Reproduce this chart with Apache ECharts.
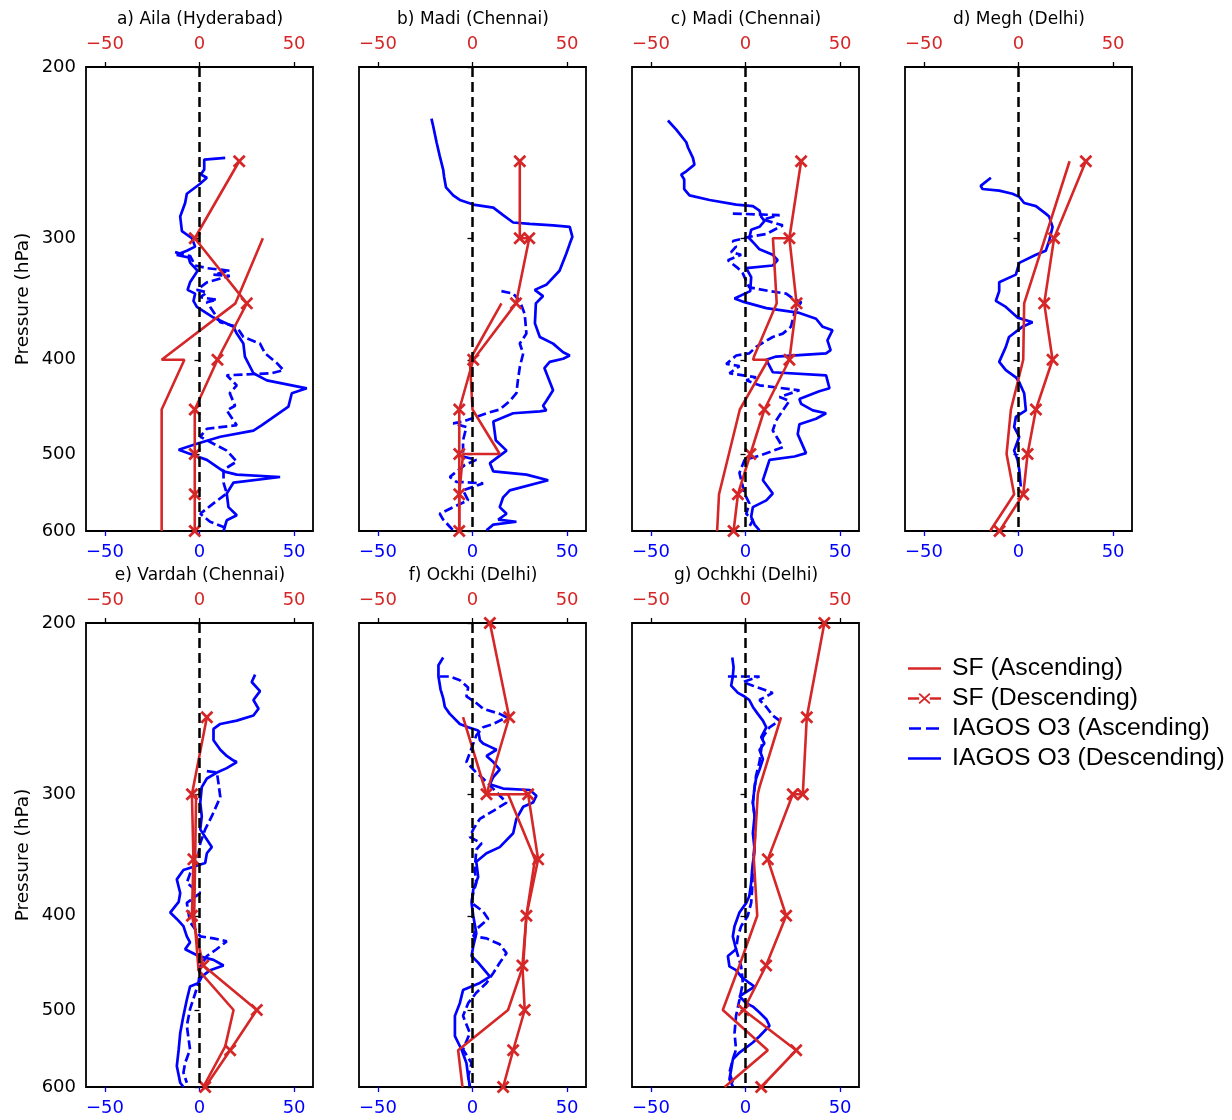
<!DOCTYPE html>
<html><head><meta charset="utf-8">
<script src="https://cdn.jsdelivr.net/npm/echarts@6/dist/echarts.min.js"></script>
<style>html,body{margin:0;padding:0;background:#fff}#c{width:1232px;height:1120px}</style>
</head><body><div id="c"></div>
<script>
// ---------------- DATA: [value, pressure (hPa)] ----------------
const titles = ['a) Aila (Hyderabad)','b) Madi (Chennai)','c) Madi (Chennai)','d) Megh (Delhi)','e) Vardah (Chennai)','f) Ockhi (Delhi)','g) Ochkhi (Delhi)'];
const seriesNames = ['SF (Ascending)','SF (Descending)','IAGOS O3 (Ascending)','IAGOS O3 (Descending)'];
const xTicks = [-50, 0, 50];
const pTicks = [200, 300, 400, 500, 600];

// a) Aila
const aSfAsc = [[33.5,300],[19,350],[-20,400],[-8,400],[-20,450],[-20,500],[-20,550],[-20,600]];
const aSfDesc = [[21,250],[-2.5,300],[25,350],[9.5,400],[-2.5,450],[-2.5,500],[-2.5,550],[-2.5,600]];
const aO3Desc = [[13.6,248],[2.5,249],[2.5,255],[0.7,258],[3.9,260],[0,264],[-6.7,270],[-7.6,276],[-10.2,285],[-9.3,295],[-4,300],[-2.3,306],[-6.7,309],[-12,312],[-5.8,314],[-4.9,318],[-1,324],[-5,333],[-6.3,339],[-2.3,342],[-3.2,348],[-1.4,353],[7.4,362],[18,370],[19.7,376],[23.2,385],[24,397],[28.5,413],[35.6,420],[56.7,428],[48.8,433],[47,447],[36.4,462],[33,467],[28.5,473],[11,480],[-1.4,488],[-11,495],[-2.3,502],[3.9,507],[12.7,521],[19.7,525],[42.6,528],[18,535],[14.4,549],[15.3,567],[19.7,578],[14.4,585],[12.7,600]];
const aO3Asc = [[-12.9,310],[-4.9,313],[-2.3,320],[3.9,322],[16,324],[7.4,327],[16,328],[3.9,333],[-1.4,339],[3.9,341],[0.4,345],[9.2,347],[3.9,349],[11,366],[19.7,370],[23.2,379],[32,385],[34.7,394],[40.8,403],[44.4,410],[38,413],[14.4,415],[19.7,425],[16,433],[18.8,446],[14.4,451],[18,462],[19.7,467],[3.9,471],[0.4,480],[7.4,488],[14.4,496],[19.7,509],[12.7,519],[12.7,535],[14.4,549],[7.4,562],[0.4,576],[5.6,587],[14.4,596]];

// b) Madi
const bSfAsc = [[15.3,350],[-1.4,400],[0,450],[14.4,500],[-5,500],[-7,550],[-7,600]];
const bSfDesc = [[25,250],[25,300],[30,300],[23,350],[0.4,400],[-7,450],[-7,500],[-7,550],[-7,600]];
const bO3Desc = [[-21.7,226],[-20.8,230],[-19,239],[-17.3,247],[-15.5,255],[-15,259.5],[-14,266],[-10.2,271],[-6.7,274],[0.4,277],[11,279],[16.2,284],[21.5,289],[30.3,290],[42.6,291],[51.4,292],[52.8,299],[51.4,304],[49.6,311],[46,324],[39,335],[32.9,339],[37.3,344],[33.5,350],[33,367],[35.6,379],[42.6,385],[47.9,393],[51.4,396],[47.9,399],[40.8,402],[38,408],[42.6,430],[39,441],[37.3,446],[39,451],[35.6,452],[21.5,454],[11,463],[12.3,484],[18,496],[9.2,511],[11,521],[28.5,525],[40,532],[19.7,545],[16.2,554],[14.4,567],[18,576],[13.6,584],[23.2,587],[11,591],[7.4,599]];
const bO3Asc = [[15.3,340],[21.5,342],[25,348],[27.6,359],[28.5,376],[25,385],[26.8,394],[25,407],[24,420],[23.2,433],[19.7,441],[14.4,450],[7.4,454],[-5,463],[-10.2,465],[-3.2,469],[-5,484],[-5,503],[2,507],[-4,513],[-12,528],[-8.5,534],[5.6,536],[-5,545],[-2.3,558],[-10.2,567],[-17.3,576],[-15.5,584],[-12,594],[-10.2,599]];

// c) Madi
const cSfAsc = [[23,300],[14.5,300],[16.5,350],[4.5,397],[4,400],[12,400],[-3,450],[-14,550],[-15,600]];
const cSfDesc = [[29.4,250],[23.2,300],[27,350],[23.2,400],[10,450],[2.6,500],[-4,550],[-6.3,600]];
const cO3Desc = [[-41,227],[-36.6,232],[-31.3,239],[-30.4,242],[-27.8,248],[-27,252],[-31.3,256],[-34,258],[-32.4,261],[-32.4,267],[-29.6,271],[-19,274],[-4.9,277],[3.9,278],[7.4,281],[8.3,285],[10,288],[7.4,292],[3,294],[2,300],[4.8,304],[7.4,308],[14.4,312],[17,316],[14.4,320],[0.4,322],[3,329],[2.5,340],[-5.8,346],[-0.5,349],[11,354],[28.5,358],[37.3,363],[40.8,370],[46,373],[43.3,382],[45,391],[42.6,394],[16.2,397],[11,400],[14.4,412],[42.6,415],[44.4,428],[39,431],[28.5,439],[29.4,444],[35.6,451],[42.6,454],[37.3,460],[28.5,466],[27.6,477],[32,499],[25.9,503],[12.7,507],[11,519],[9.2,532],[14.4,549],[11,558],[3.9,567],[3,580],[4.8,591],[7.4,599]];
const cO3Asc = [[-6.7,283],[18,284],[9.2,287],[19.7,291],[11,297],[2,299],[-6.7,302],[-5,306],[-7.6,310],[-2.3,312],[-9.3,316],[-4,322],[-1.4,326],[0.4,332],[2,337],[12.7,340],[21.5,342],[25,346],[29.4,349],[25.9,358],[24,370],[19.7,376],[14.4,379],[5.6,388],[2,394],[-4.9,396],[-10.2,404],[-3.2,406],[-8.5,413],[5.6,417],[0.4,420],[7.4,425],[28.5,430],[18,437],[23.2,441],[19.7,451],[16.2,462],[14.4,473],[19.7,492],[7.4,502],[-0.5,507],[-3.2,523],[-0.5,549],[2,562],[0.4,576],[3.9,585],[2,594]];

// d) Megh
const dSfAsc = [[27,250],[3,350],[2.5,400],[-4,450],[-6.3,500],[-2.3,550],[-15,600]];
const dSfDesc = [[35.6,250],[18.8,300],[13.6,350],[18,400],[9.2,450],[4.8,500],[2.5,550],[-10,600]];
const dO3Desc = [[-14.6,260],[-20,265],[-19,267],[-10.2,268],[-3.2,270],[0.4,272],[3,276],[9.2,278],[14.4,283],[16.2,285],[18,292],[16.2,302],[14.4,309],[9.2,312],[0.4,318],[-1.4,327],[-10.2,333],[-10.2,340],[-12,348],[-6.7,353],[-0.5,362],[7.4,366],[2,370],[-5,379],[-6.7,388],[-10.2,402],[-6.7,410],[-1.4,417],[0.4,422],[3,433],[3.9,451],[-1.4,458],[-2.3,469],[0.4,480],[-2.3,496],[-0.5,507],[0.4,519],[1.2,540]];
const dO3Asc = [];

// e) Vardah
const eSfAsc = [[-1.8,300],[-2.3,350],[-2.8,400],[-0.5,455],[18,500],[13.6,545],[2,600]];
const eSfDesc = [[3.9,250],[-4,300],[-3.2,350],[-4,400],[2,450],[30.3,500],[16.2,550],[3,600]];
const eO3Desc = [[29.4,226],[27.6,230],[32,235],[28.5,240],[31.2,245],[28.5,249],[19.7,252],[11,254],[7.4,257],[7.4,264],[11,270],[14.4,274],[18,277],[19.7,278],[14.4,282],[9.2,285],[3.9,289],[1.2,295],[0.4,306],[1.2,316],[0.4,326],[3,332],[6.5,340],[3.9,345],[3,353],[-8.5,359],[-12,367],[-10.2,379],[-11,387],[-15.5,397],[-12,403],[-8.5,410],[-6.7,420],[-5,426],[-7.6,433],[-0.5,440],[7.4,444],[12.7,450],[5.6,455],[1.2,462],[-0.5,469],[-5,473],[-6.7,488],[-8.5,507],[-10.2,528],[-11,549],[-12,571],[-10.2,594],[-8.5,600]];
const eO3Asc = [[3.9,284],[9.2,285],[10,292],[11,302],[6.5,316],[3,326],[0.4,337],[-1.4,353],[-5,362],[-6.7,370],[-2.3,376],[0.4,379],[-6.7,388],[-5,406],[0.4,420],[7.4,422],[14.4,425],[9,433],[3.9,440],[0.4,451],[-0.5,469],[-5,499],[-6.7,519],[-5,549],[-7.6,567],[-8.5,580],[-6.7,594]];

// f) Ockhi
const fSfAsc = [[-5,250],[7.4,300],[18.8,300],[33,350],[28.5,400],[26.8,450],[18.8,500],[-7.6,550],[-5.3,600]];
const fSfDesc = [[9.2,200],[19.4,250],[7.4,300],[29.4,300],[34.7,350],[28.5,400],[26.4,450],[27.6,500],[21.5,550],[16.2,600]];
const fO3Desc = [[-15.5,217],[-18,221],[-18,227],[-16.9,234],[-15.5,239],[-14.6,244],[-12,248],[-6.7,254],[-2.3,256],[3,258],[3.9,264],[5.6,266],[9.2,268],[12.7,270],[7.4,274],[11,278],[14.4,283],[11,288],[9.2,293],[16.2,296],[30.3,297],[33.8,301],[32,306],[26.8,309],[23.2,318],[21.5,329],[14.4,340],[7.4,345],[2,352],[3,365],[0.4,376],[-0.5,388],[0.4,400],[2,417],[0.4,430],[-0.5,440],[3,447],[9.2,462],[3.9,469],[-5,477],[-6.7,492],[-9.3,507],[-9.3,532],[-5.8,549],[-3.2,567],[-2.3,585],[-1.4,599]];
const fO3Asc = [[-17.3,227],[-12,227],[-6.7,229],[-2.3,233],[-3.2,238],[1.2,241],[5.6,245],[14.4,248],[18,250],[11,254],[5.6,256],[2,261],[-1.4,272],[-3.2,278],[2,285],[5.6,289],[18,306],[11,312],[3.9,318],[0.4,326],[-1.4,332],[4.8,337],[2,342],[1.2,359],[2,370],[0.4,379],[-0.5,388],[5.6,396],[8.3,403],[2,413],[0.4,420],[7.4,422],[14.4,428],[18,437],[14.4,447],[11,458],[7.4,469],[2,480],[-2.3,492],[-5,507],[-1.4,528],[-5,549],[-0.5,567],[-2.3,585],[-1.4,599]];

// g) Ochkhi
const gSfAsc = [[18.8,250],[7.4,295],[6.5,300],[4.4,350],[6.2,400],[-3.2,450],[-12,500],[11.8,550],[-11,600]];
const gSfDesc = [[41.7,200],[32.4,250],[30.3,300],[25,300],[11.8,350],[21.5,400],[10.9,450],[-1,500],[26.8,550],[8.3,600]];
const gO3Desc = [[-7,217],[-6.3,222],[-6.7,227],[-7.6,232],[-4,236],[-0.5,238],[2,240],[3.9,244],[6.5,248],[9.2,252],[11,256],[8.3,262],[10,266],[7.4,270],[9.2,276],[7.4,283],[5.6,289],[4.8,295],[3.9,306],[4.8,316],[3.9,329],[4.8,342],[3.5,359],[3,370],[2,382],[0.4,388],[-3.2,397],[-5.8,410],[-6.7,420],[-5,433],[-9.3,440],[-8.5,451],[-5,455],[-2.3,462],[2,469],[4.8,473],[-3.2,484],[0.4,492],[3.9,496],[7.4,503],[11,511],[12.7,519],[7.4,532],[3.9,540],[-3.2,553],[-6.7,562],[-7.6,576],[-8.5,589],[-6.7,599]];
const gO3Asc = [[-9.3,227],[7.4,227],[-1.4,230],[3.9,232],[9.2,234],[14.4,236],[7.4,240],[11,244],[14.4,249],[18,252],[12.7,256],[9.2,262],[8.3,270],[7.4,278],[5.6,287],[4.8,295],[3.9,306],[5.3,321],[4.8,337],[3.9,356],[3.5,376],[3,388],[1.2,400],[-2.3,410],[-4,420],[-5,433],[-2.3,451],[-1.4,469],[-3.2,488],[-5,507],[-5.8,528],[-5,549],[-6.7,562],[-8.5,580],[-6.7,594]];

// ---------------- LAYOUT / STYLE ----------------
const panels = [
  [aSfAsc,aSfDesc,aO3Asc,aO3Desc],[bSfAsc,bSfDesc,bO3Asc,bO3Desc],[cSfAsc,cSfDesc,cO3Asc,cO3Desc],[dSfAsc,dSfDesc,dO3Asc,dO3Desc],
  [eSfAsc,eSfDesc,eO3Asc,eO3Desc],[fSfAsc,fSfDesc,fO3Asc,fO3Desc],[gSfAsc,gSfDesc,gO3Asc,gO3Desc]
];
const RED = '#d62728', BLUE = '#0000ff';
const FONT = 'DejaVu Sans';
const lefts = [86,359,632,905,86,359,632];
const tops = [67,67,67,67,623,623,623];
const W = 227, H = 464;
const XSYM = 'path://M0,1.8L1.8,0L6,4.2L10.2,0L12,1.8L7.8,6L12,10.2L10.2,12L6,7.8L1.8,12L0,10.2L4.2,6Z';
// legend icons drawn as filled shapes in a 33x14 box (corner specks fix the box)
const BOX = 'M0,0L0.01,0L0,0.01Z M33,14L32.99,14L33,13.99Z ';
const ICON_SOLID = 'path://' + BOX + 'M0,5.7L33,5.7L33,8.3L0,8.3Z';
const ICON_DASH = 'path://' + BOX + 'M1,5.7L13,5.7L13,8.3L1,8.3Z M18,5.7L31,5.7L31,8.3L18,8.3Z';
const ICON_X = 'path://' + BOX + 'M0,5.7L11.2,5.7L11.2,8.3L0,8.3Z M21.8,5.7L33,5.7L33,8.3L21.8,8.3Z ' +
  'M10.5,2.8L11.8,1.5L16.5,5.7L21.2,1.5L22.5,2.8L17.8,7L22.5,11.2L21.2,12.5L16.5,8.3L11.8,12.5L10.5,11.2L15.2,7Z';
const minusFmt = v => (v < 0 ? '\u2212' : '') + Math.abs(v);

const grid = [], xAxis = [], yAxis = [], series = [], title = [];
panels.forEach((p, i) => {
  grid.push({left: lefts[i], top: tops[i], width: W, height: H, show: true, borderColor: '#000', borderWidth: 1.8, backgroundColor: 'transparent'});
  title.push({text: titles[i], left: lefts[i] + W/2 - 4.5, top: tops[i] - 61, textAlign: 'center',
    textStyle: {fontFamily: FONT, fontSize: 17, fontWeight: 'normal', color: '#000'}});
  // bottom axis (blue)
  xAxis.push({type: 'value', gridIndex: i, position: 'bottom', min: -60, max: 60,
    axisLine: {show: false}, splitLine: {show: false},
    axisTick: {show: true, length: 5, customValues: xTicks, lineStyle: {color: BLUE, width: 1.3}},
    axisLabel: {show: true, customValues: xTicks, formatter: minusFmt, color: BLUE, fontFamily: FONT, fontSize: 18, margin: 12}});
  // top axis (red)
  xAxis.push({type: 'value', gridIndex: i, position: 'top', min: -60, max: 60,
    axisLine: {show: false}, splitLine: {show: false},
    axisTick: {show: true, length: 5, customValues: xTicks, lineStyle: {color: '#000', width: 1.3}},
    axisLabel: {show: true, customValues: xTicks, formatter: minusFmt, color: RED, fontFamily: FONT, fontSize: 18, margin: 14}});
  const leftCol = (i === 0 || i === 4);
  yAxis.push({type: 'log', logBase: 10, gridIndex: i, min: 200, max: 600, inverse: true,
    axisLine: {show: false}, splitLine: {show: false},
    axisTick: {show: true, length: 5, customValues: pTicks, lineStyle: {color: '#000', width: 1.3}},
    axisLabel: {show: leftCol, customValues: pTicks, formatter: v => String(Math.round(v)), color: '#000', fontFamily: FONT, fontSize: 18, margin: 10},
    name: leftCol ? 'Pressure (hPa)' : '', nameLocation: 'middle', nameRotate: 90, nameGap: 53,
    nameTextStyle: {fontFamily: FONT, fontSize: 18.5, color: '#000'}});
  const bx = 2*i, tx = 2*i + 1;
  series.push({type: 'line', name: seriesNames[0], xAxisIndex: tx, yAxisIndex: i, data: p[0], symbol: 'none',
    lineStyle: {color: RED, width: 2.6}, itemStyle: {color: RED}, z: 3, animation: false});
  series.push({type: 'line', name: seriesNames[1], xAxisIndex: tx, yAxisIndex: i, data: p[1], symbol: XSYM, symbolSize: 13, showSymbol: true,
    lineStyle: {color: RED, width: 2.6}, itemStyle: {color: RED}, z: 3, animation: false});
  series.push({type: 'line', name: seriesNames[2], xAxisIndex: bx, yAxisIndex: i, data: p[2], symbol: 'none',
    lineStyle: {color: BLUE, width: 2.7, type: [9, 4]}, itemStyle: {color: BLUE}, z: 2, animation: false});
  series.push({type: 'line', name: seriesNames[3], xAxisIndex: bx, yAxisIndex: i, data: p[3], symbol: 'none',
    lineStyle: {color: BLUE, width: 2.7}, itemStyle: {color: BLUE}, z: 2, animation: false});
  // zero reference line
  series.push({type: 'line', name: 'zero', xAxisIndex: bx, yAxisIndex: i, data: [], silent: true, z: 5, animation: false,
    markLine: {silent: true, symbol: ['none','none'], label: {show: false}, animation: false,
      lineStyle: {color: '#000', width: 2.5, type: [10, 5]}, data: [{xAxis: 0}]}});
});

const chart = echarts.init(document.getElementById('c'), null, {renderer: 'canvas', width: 1232, height: 1120});
chart.setOption({
  backgroundColor: '#fff',
  animation: false,
  title, grid, xAxis, yAxis, series,
  legend: {
    data: [
      {name: seriesNames[0], icon: ICON_SOLID, itemStyle: {color: RED}},
      {name: seriesNames[1], icon: ICON_X, itemStyle: {color: RED}},
      {name: seriesNames[2], icon: ICON_DASH, itemStyle: {color: BLUE}},
      {name: seriesNames[3], icon: ICON_SOLID, itemStyle: {color: BLUE}}
    ],
    orient: 'vertical', left: 903, top: 651, itemWidth: 33, itemHeight: 14, itemGap: 5,
    selectedMode: false,
    textStyle: {fontFamily: 'Liberation Sans', fontSize: 24.8, color: '#000', lineHeight: 25, padding: [0, 0, 0, 6]}
  }
});
</script></body></html>
